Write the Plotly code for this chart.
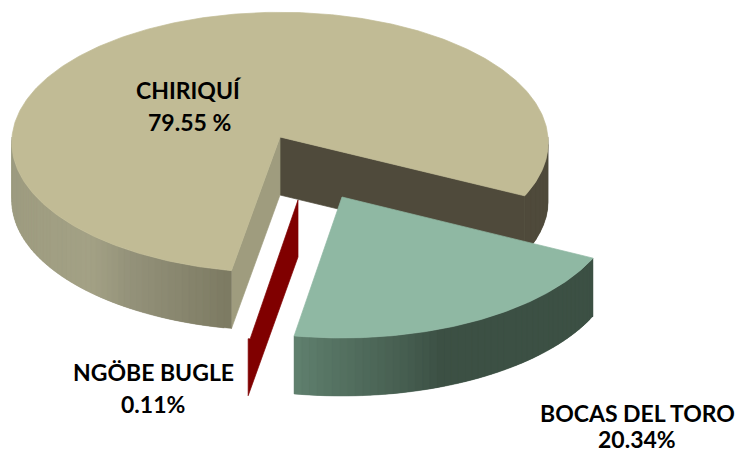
import math
import plotly.graph_objects as go

# Data
categories = ["CHIRIQUÍ", "BOCAS DEL TORO", "NGÖBE BUGLE"]
values = [79.55, 20.34, 0.11]
value_labels = ["79.55 %", "20.34%", "0.11%"]

# Style
TOP_COL = {"CHIRIQUÍ": "#c1bb95", "BOCAS DEL TORO": "#8fb8a3", "NGÖBE BUGLE": "#800000"}
CUT_A = "#9f9c7e"
CUT_B = "#4f4a3b"
WALL_HEIGHT = 58
PERSPECTIVE = 0.0423
START_ANGLE = 100.0   # clockwise on screen, from +x: Chiriquí starts here
GEOM = {
    "CHIRIQUÍ": dict(cx=280, cy=137, rx=268, ry=130),
    "BOCAS DEL TORO": dict(cx=342, cy=197, rx=275, ry=135),
    "NGÖBE BUGLE": dict(cx=298, cy=200, rx=275, ry=135),
}
LABEL_POS = {
    "CHIRIQUÍ": (189, 90, 122),
    "BOCAS DEL TORO": (637, 413, 439),
    "NGÖBE BUGLE": (153, 372, 404),
}
FONT = dict(family="Lato", size=23, color="#000000")

total = sum(values)
spans = {c: v / total * 360 for c, v in zip(categories, values)}
a0 = START_ANGLE
ranges = {}
for c in categories:
    ranges[c] = (a0, a0 + spans[c])
    a0 += spans[c]


def rim(c, deg, drop=0):
    g = GEOM[c]
    t = math.radians(deg)
    d = 1 - PERSPECTIVE * math.sin(t)
    return g["cx"] + g["rx"] * math.cos(t) / d, g["cy"] + g["ry"] * math.sin(t) / d + drop


def apex(c, drop=0):
    return GEOM[c]["cx"], GEOM[c]["cy"] + drop


def lerp_col(stops, f):
    f = max(0, min(1, f))
    if f <= stops[0][0]:
        return "rgb(%d,%d,%d)" % stops[0][1]
    for (p0, c0), (p1, c1) in zip(stops, stops[1:]):
        if f <= p1:
            u = (f - p0) / (p1 - p0)
            return "rgb(%d,%d,%d)" % tuple(round(a + (b - a) * u) for a, b in zip(c0, c1))
    return "rgb(%d,%d,%d)" % stops[-1][1]


fig = go.Figure()


def poly(pts, color, lw=0.7):
    xs = [p[0] for p in pts] + [pts[0][0]]
    ys = [p[1] for p in pts] + [pts[0][1]]
    fig.add_trace(go.Scatter(x=xs, y=ys, mode="lines", fill="toself", fillcolor=color,
                             line=dict(color=color, width=lw), hoverinfo="skip", showlegend=False))


def top_face(c):
    a, b = ranges[c]
    n = max(2, int((b - a) * 1.5))
    pts = [apex(c)] + [rim(c, a + (b - a) * i / n) for i in range(n + 1)]
    poly(pts, TOP_COL[c])


def wall(c, a, b, stops, step=1.5):
    """Outer wall between angles a and b; strips overlap so no seams show."""
    n = max(1, int((b - a) / step))
    for i in range(n):
        d0 = a + (b - a) * i / n
        d1 = a + (b - a) * min(n, i + 1) / n
        d2 = a + (b - a) * min(n, i + 2) / n
        xm = rim(c, (d0 + d1) / 2)[0]
        poly([rim(c, d0), rim(c, d1), rim(c, d2), rim(c, d2, WALL_HEIGHT), rim(c, d1, WALL_HEIGHT),
              rim(c, d0, WALL_HEIGHT)], lerp_col(stops, xm / 736), lw=0.3)


# Chiriquí
c = "CHIRIQUÍ"
a, b = ranges[c]
poly([apex(c), rim(c, b), rim(c, b, WALL_HEIGHT), apex(c, WALL_HEIGHT)], CUT_B)
wall(c, 360, b, [(0, (79, 74, 59)), (1, (79, 74, 59))], step=3)
poly([apex(c), rim(c, a), rim(c, a, WALL_HEIGHT), apex(c, WALL_HEIGHT)], CUT_A)
wall(c, a, 180, [(0.018, (158, 156, 128)), (0.122, (163, 161, 133)), (0.177, (148, 146, 122)), (0.314, (124, 122, 98))])
top_face(c)

# Bocas del Toro
c = "BOCAS DEL TORO"
a, b = ranges[c]
wall(c, a, b, [(0.40, (96, 128, 110)), (0.475, (82, 110, 94)), (0.54, (72, 96, 82)), (0.60, (60, 80, 68)), (0.81, (60, 80, 68))])
top_face(c)

# Ngöbe Bugle
c = "NGÖBE BUGLE"
a, b = ranges[c]
poly([apex(c), rim(c, a), rim(c, b), rim(c, b, WALL_HEIGHT - 1), apex(c, WALL_HEIGHT - 1)], TOP_COL[c])

for c, vl in zip(categories, value_labels):
    x, y1, y2 = LABEL_POS[c]
    for txt, y in ((c, y1), (vl, y2)):
        fig.add_annotation(x=x, y=y, text="<b>%s</b>" % txt, showarrow=False, font=FONT,
                           xanchor="center", yanchor="middle")

fig.update_layout(width=736, height=453, autosize=False,
                  margin=dict(l=0, r=0, t=0, b=0), paper_bgcolor="white", plot_bgcolor="white",
                  showlegend=False,
                  xaxis=dict(range=[0, 736], visible=False, fixedrange=True),
                  yaxis=dict(range=[453, 0], visible=False, fixedrange=True))
fig.write_html("out.html", config={"displayModeBar": False},
               post_script="document.documentElement.style.overflow='hidden';document.body.style.margin='0';")
